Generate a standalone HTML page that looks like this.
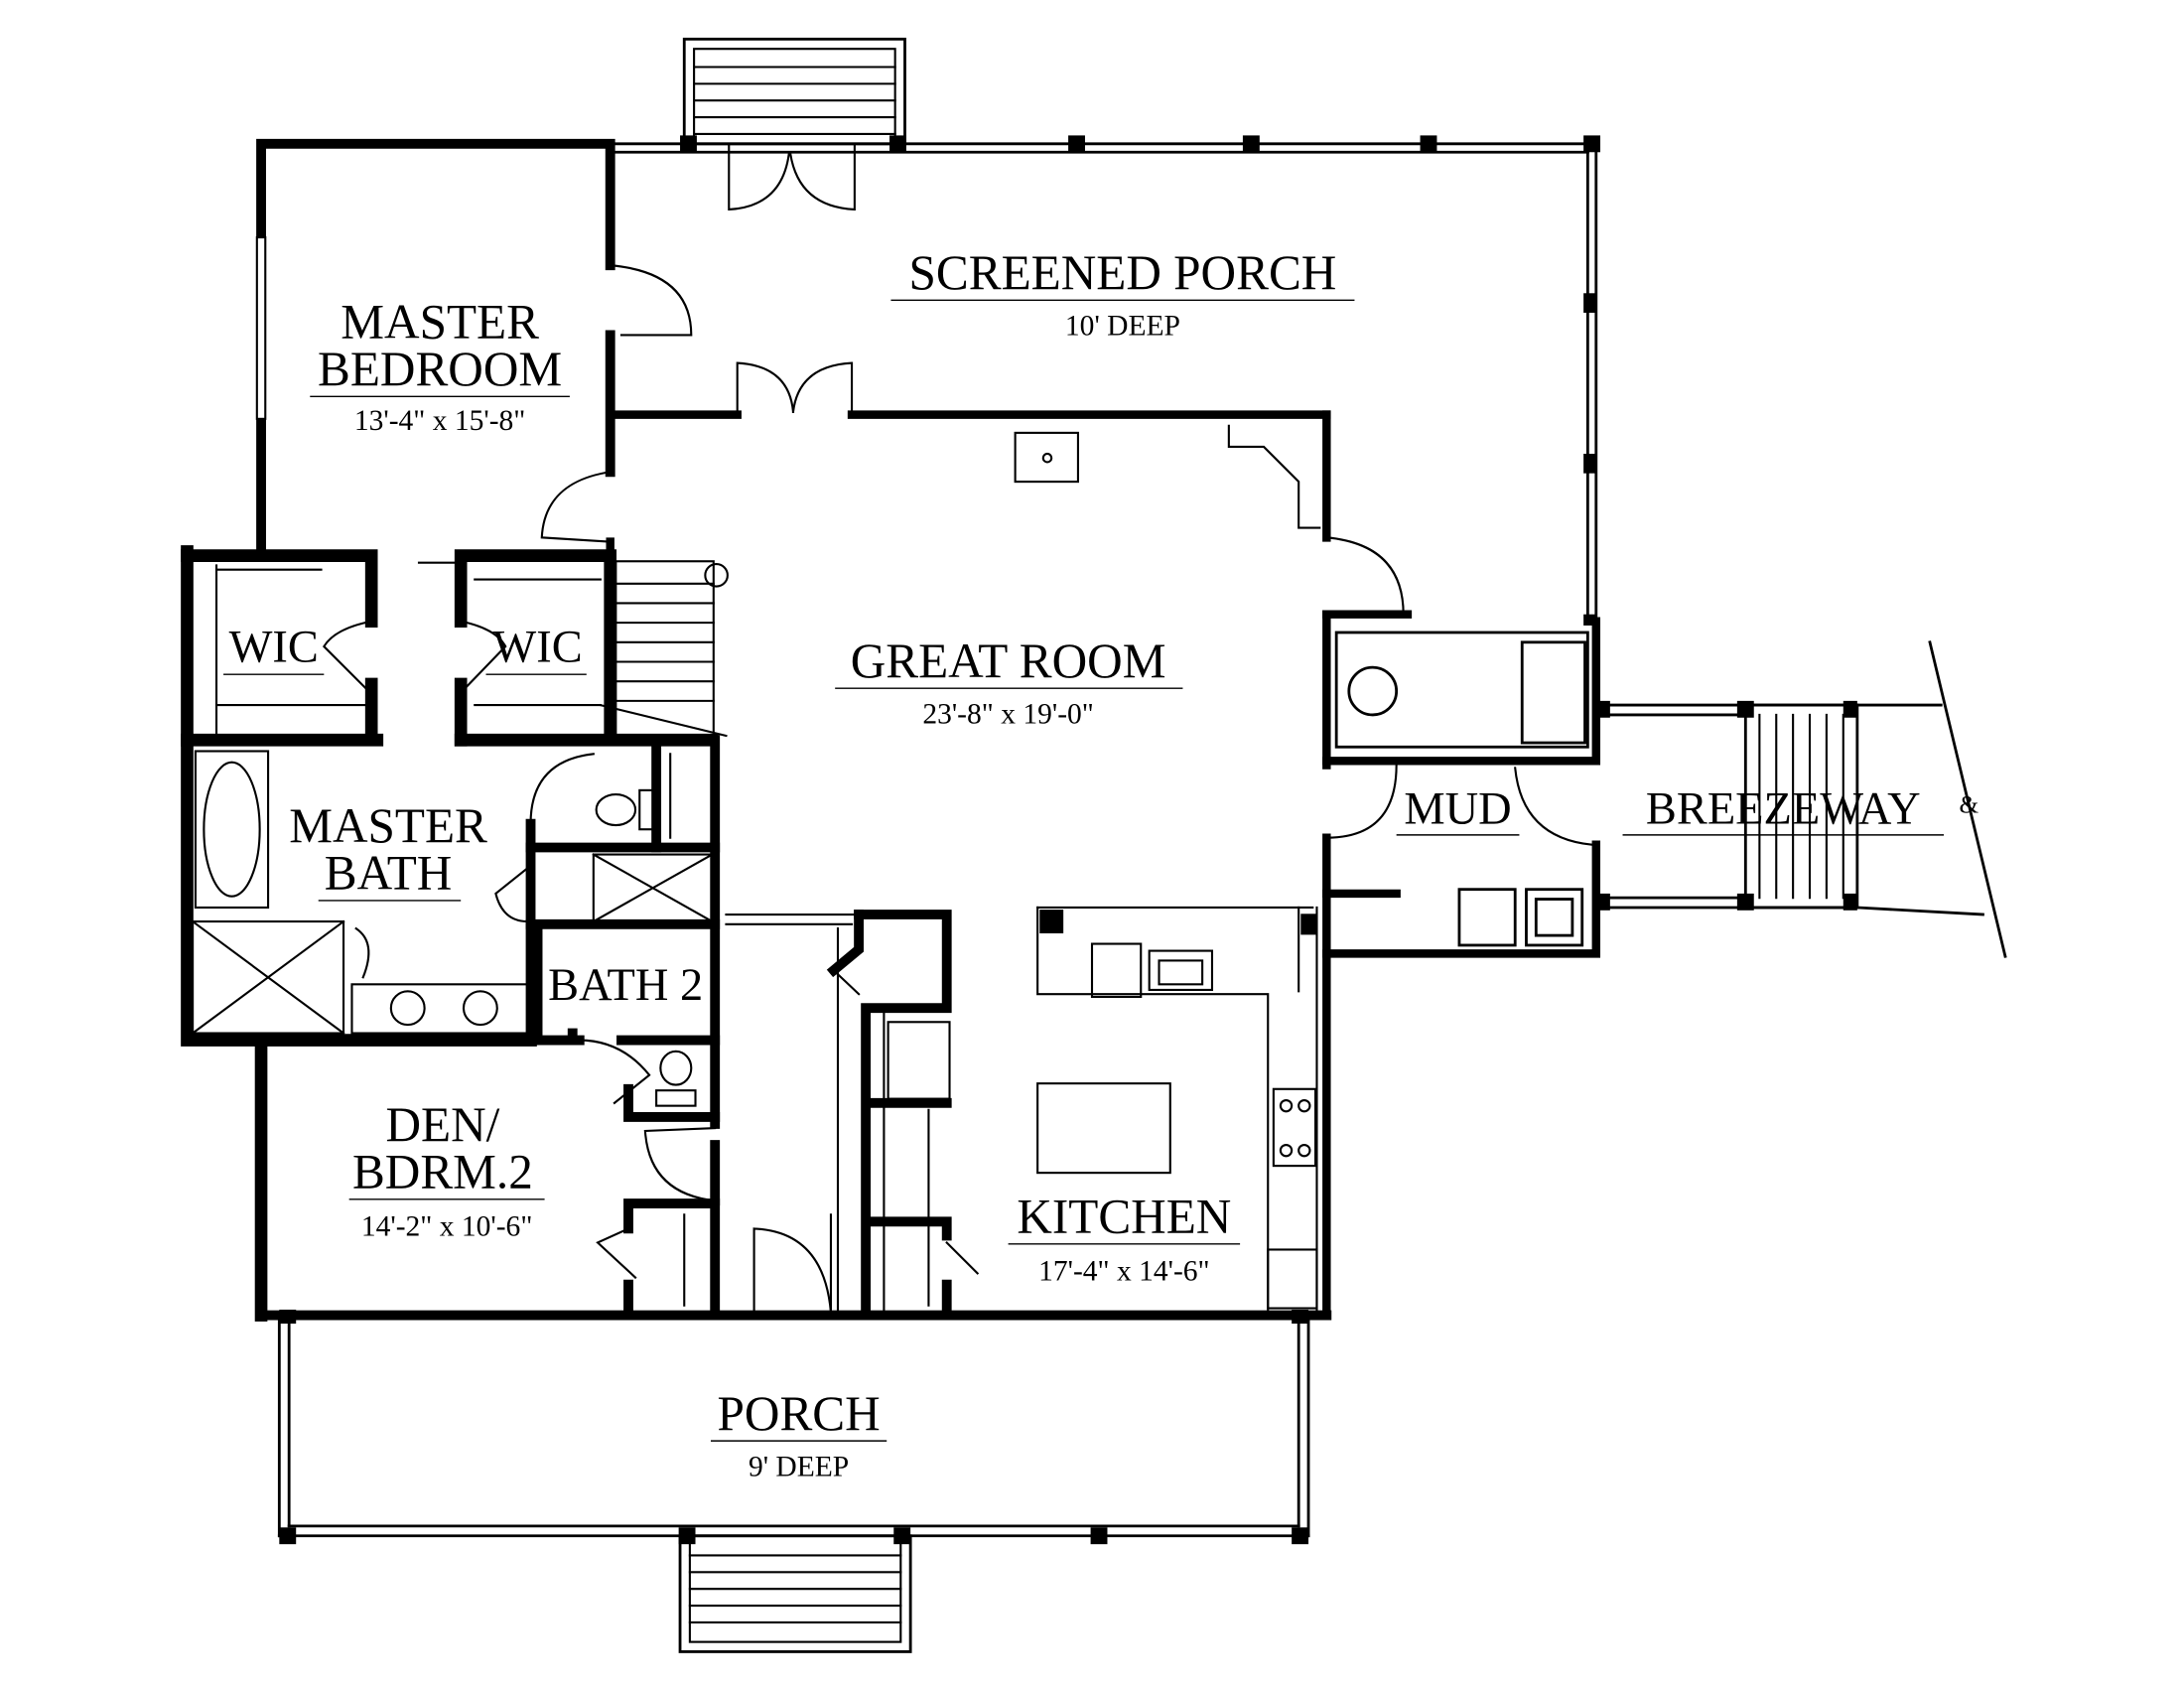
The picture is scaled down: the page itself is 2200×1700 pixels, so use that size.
<!DOCTYPE html>
<html><head><meta charset="utf-8"><style>
html,body{margin:0;padding:0;background:#fff;}
svg{display:block;}
text{font-family:"Liberation Serif",serif;fill:#000;}
</style></head><body>
<svg width="2200" height="1700" viewBox="0 0 1564 1209" preserveAspectRatio="none" xmlns="http://www.w3.org/2000/svg">
<g fill="none" stroke="#000" stroke-linecap="square">
<rect x="490" y="28" width="158" height="75" stroke-width="2"/>
<rect x="497" y="35" width="144" height="68" stroke-width="1.5"/>
<g stroke-width="1.5"><line x1="497" y1="48" x2="641" y2="48"/><line x1="497" y1="60" x2="641" y2="60"/><line x1="497" y1="72" x2="641" y2="72"/><line x1="497" y1="84" x2="641" y2="84"/><line x1="497" y1="96" x2="641" y2="96"/></g>
<g stroke-width="2"><line x1="437" y1="103" x2="1143" y2="103"/><line x1="437" y1="109" x2="1137" y2="109"/><line x1="1143" y1="103" x2="1143" y2="445"/><line x1="1137" y1="109" x2="1137" y2="445"/></g>
<g stroke-width="7"><polyline points="187,395 187,103 437,103 437,190"/><line x1="437" y1="240" x2="437" y2="338"/></g>
<rect x="184" y="170" width="6" height="130" fill="#fff" stroke-width="1.5"/>
<g stroke-width="6"><line x1="437" y1="297" x2="528" y2="297"/><line x1="610" y1="297" x2="950" y2="297"/><line x1="950" y1="297" x2="950" y2="385"/><line x1="950" y1="440" x2="950" y2="548"/><line x1="950" y1="600" x2="950" y2="942"/><line x1="437" y1="388" x2="437" y2="400"/></g>
<g stroke-width="6"><polyline points="950,440 1008,440"/><polyline points="950,545 1143,545 1143,445"/><polyline points="950,683 1143,683 1143,605"/><line x1="950" y1="640" x2="1000" y2="640"/></g>
<g stroke-width="2"><rect x="957" y="453" width="180" height="82"/><rect x="1090" y="460" width="45" height="72"/><circle cx="983" cy="495" r="17"/><rect x="1045" y="637" width="40" height="40"/><rect x="1093" y="637" width="40" height="40"/><rect x="1100" y="644" width="26" height="26"/></g>
<g stroke-width="2"><line x1="1143" y1="505" x2="1330" y2="505"/><line x1="1143" y1="512" x2="1250" y2="512"/><line x1="1143" y1="650" x2="1330" y2="650"/><line x1="1143" y1="643" x2="1250" y2="643"/><line x1="1330" y1="505" x2="1390" y2="505"/><line x1="1330" y1="650" x2="1420" y2="655"/><line x1="1382" y1="460" x2="1436" y2="685"/></g>
<rect x="1250" y="505" width="80" height="145" stroke-width="2"/>
<g stroke-width="1.5"><line x1="1260" y1="512" x2="1260" y2="643"/><line x1="1272" y1="512" x2="1272" y2="643"/><line x1="1284" y1="512" x2="1284" y2="643"/><line x1="1296" y1="512" x2="1296" y2="643"/><line x1="1308" y1="512" x2="1308" y2="643"/><line x1="1320" y1="512" x2="1320" y2="643"/></g>
<g stroke-width="9"><polyline points="134,395 134,745 380,745"/><polyline points="134,398 266,398 266,445"/><line x1="266" y1="490" x2="266" y2="525"/><line x1="134" y1="530" x2="270" y2="530"/><polyline points="330,445 330,398 437,398 437,525"/><line x1="330" y1="490" x2="330" y2="530"/><line x1="330" y1="530" x2="510" y2="530"/><line x1="187" y1="745" x2="187" y2="942"/></g>
<g stroke-width="1.5"><line x1="155" y1="405" x2="155" y2="525"/><line x1="155" y1="408" x2="230" y2="408"/><line x1="155" y1="505" x2="262" y2="505"/><line x1="340" y1="415" x2="430" y2="415"/><line x1="340" y1="505" x2="430" y2="505"/><path d="M266 445 Q240 450 232 463 L262 493"/><path d="M330 445 Q355 450 362 463 L333 493"/></g>
<g stroke-width="1.5"><rect x="441" y="402" width="70" height="125"/><line x1="441" y1="418" x2="511" y2="418"/><line x1="441" y1="432" x2="511" y2="432"/><line x1="441" y1="446" x2="511" y2="446"/><line x1="441" y1="460" x2="511" y2="460"/><line x1="441" y1="474" x2="511" y2="474"/><line x1="441" y1="488" x2="511" y2="488"/><line x1="441" y1="502" x2="511" y2="502"/><line x1="430" y1="505" x2="520" y2="527"/><circle cx="513" cy="412" r="8"/><line x1="300" y1="403" x2="330" y2="403"/></g>
<g stroke-width="7"><line x1="380" y1="590" x2="380" y2="745"/><line x1="380" y1="607" x2="512" y2="607"/><line x1="470" y1="530" x2="470" y2="607"/><line x1="512" y1="530" x2="512" y2="805"/><line x1="380" y1="662" x2="512" y2="662"/><line x1="410" y1="745" x2="410" y2="740"/></g>
<g stroke-width="1.5"><rect x="140" y="538" width="52" height="112"/><ellipse cx="166" cy="594" rx="20" ry="48"/><rect x="138" y="660" width="108" height="80"/><line x1="138" y1="660" x2="246" y2="740"/><line x1="246" y1="660" x2="138" y2="740"/><rect x="252" y="705" width="126" height="35"/><circle cx="292" cy="722" r="12"/><circle cx="344" cy="722" r="12"/><rect x="425" y="612" width="85" height="48"/><line x1="425" y1="612" x2="510" y2="660"/><line x1="510" y1="612" x2="425" y2="660"/><ellipse cx="441" cy="580" rx="14" ry="11"/><rect x="458" y="566" width="12" height="28"/><path d="M380 590 Q380 545 425 540"/><path d="M380 620 L355 640 Q360 660 378 660"/><path d="M255 665 Q270 675 260 700"/><line x1="480" y1="540" x2="480" y2="600"/></g>
<g stroke-width="7"><polyline points="385,665 385,745 415,745"/><polyline points="445,745 512,745"/><polyline points="450,780 450,800 512,800"/><line x1="512" y1="820" x2="512" y2="860"/></g>
<g stroke-width="1.5"><path d="M415 745 Q445 745 465 770 L440 790"/><ellipse cx="484" cy="765" rx="11" ry="12"/><rect x="470" y="781" width="28" height="11"/><line x1="520" y1="655" x2="615" y2="655"/><line x1="520" y1="662" x2="610" y2="662"/></g>
<g stroke-width="7"><line x1="187" y1="942" x2="950" y2="942"/><polyline points="450,880 450,862 512,862 512,942"/><line x1="450" y1="920" x2="450" y2="942"/></g>
<g stroke-width="1.5"><path d="M512 860 Q465 855 462 810 L512 808"/><path d="M450 880 L428 890 L455 915"/><line x1="490" y1="870" x2="490" y2="935"/></g>
<g stroke-width="7"><polyline points="615,655 615,680 597,695"/><polyline points="615,655 678,655 678,722 620,722 620,942"/><line x1="625" y1="790" x2="678" y2="790"/><polyline points="625,875 678,875 678,885"/><line x1="678" y1="920" x2="678" y2="942"/></g>
<g stroke-width="1.5"><line x1="633" y1="722" x2="633" y2="942"/><rect x="636" y="732" width="44" height="55"/><line x1="665" y1="795" x2="665" y2="935"/><line x1="597" y1="695" x2="615" y2="712"/><line x1="678" y1="890" x2="700" y2="912"/><path d="M540 942 L540 880 Q590 882 595 940"/><line x1="595" y1="870" x2="595" y2="942"/><line x1="600" y1="665" x2="600" y2="942"/></g>
<g stroke-width="1.5"><polyline points="743,650 743,712 908,712 908,942"/><line x1="743" y1="650" x2="940" y2="650"/><rect x="782" y="676" width="35" height="38"/><rect x="823" y="681" width="45" height="28"/><rect x="830" y="688" width="31" height="17"/><rect x="743" y="776" width="95" height="64"/><rect x="912" y="780" width="30" height="55"/><circle cx="921" cy="792" r="4"/><circle cx="934" cy="792" r="4"/><circle cx="921" cy="824" r="4"/><circle cx="934" cy="824" r="4"/><rect x="908" y="895" width="35" height="42"/><line x1="930" y1="650" x2="930" y2="710"/><line x1="943" y1="650" x2="943" y2="942"/></g>
<rect x="745" y="652" width="16" height="16" fill="#000"/><rect x="932" y="655" width="11" height="14" fill="#000"/>
<g stroke-width="1.5"><rect x="727" y="310" width="45" height="35"/><circle cx="750" cy="328" r="3"/><polyline points="880,305 880,320 905,320 930,345 930,378 945,378"/></g>
<g stroke-width="1.5"><path d="M437 190 Q495 195 495 240 L445 240"/><path d="M437 338 Q390 345 388 385 L437 388"/><path d="M950 385 Q1005 390 1005 440 L950 440"/><path d="M950 600 Q1000 600 1000 548"/><path d="M1140 605 Q1090 600 1085 550"/><path d="M528 297 L528 260 Q565 262 568 295"/><path d="M610 297 L610 260 Q572 262 568 295"/><path d="M522 103 L522 150 Q560 148 565 110"/><path d="M612 103 L612 150 Q572 148 566 110"/></g>
<g stroke-width="2"><line x1="200" y1="942" x2="200" y2="1100"/><line x1="207" y1="942" x2="207" y2="1093"/><line x1="937" y1="942" x2="937" y2="1100"/><line x1="930" y1="942" x2="930" y2="1093"/><line x1="200" y1="1100" x2="937" y2="1100"/><line x1="207" y1="1093" x2="930" y2="1093"/></g>
<rect x="487" y="1100" width="165" height="83" stroke-width="2"/>
<g stroke-width="1.5"><rect x="494" y="1100" width="151" height="76"/><line x1="494" y1="1114" x2="645" y2="1114"/><line x1="494" y1="1126" x2="645" y2="1126"/><line x1="494" y1="1138" x2="645" y2="1138"/><line x1="494" y1="1150" x2="645" y2="1150"/><line x1="494" y1="1162" x2="645" y2="1162"/></g>
</g>
<g fill="#000">
<rect x="487" y="97" width="12" height="12"/><rect x="637" y="97" width="12" height="12"/><rect x="765" y="97" width="12" height="12"/><rect x="890" y="97" width="12" height="12"/><rect x="1017" y="97" width="12" height="12"/><rect x="1134" y="97" width="12" height="12"/><rect x="1134" y="210" width="9" height="14"/><rect x="1134" y="325" width="9" height="14"/><rect x="1134" y="440" width="9" height="8"/>
<rect x="1143" y="502" width="10" height="12"/><rect x="1143" y="640" width="10" height="12"/><rect x="1244" y="502" width="12" height="12"/><rect x="1244" y="640" width="12" height="12"/><rect x="1320" y="502" width="10" height="12"/><rect x="1320" y="640" width="10" height="12"/>
<rect x="200" y="1094" width="12" height="12"/><rect x="486" y="1094" width="12" height="12"/><rect x="640" y="1094" width="12" height="12"/><rect x="781" y="1094" width="12" height="12"/><rect x="925" y="1094" width="12" height="12"/><rect x="200" y="938" width="12" height="10"/><rect x="925" y="938" width="12" height="10"/><rect x="131" y="600" width="4" height="8"/>
</g>
<g text-anchor="middle">
<text x="804" y="207" font-size="35">SCREENED PORCH</text><line x1="638" y1="215" x2="970" y2="215" stroke="#000"/>
<text x="804" y="240" font-size="21">10' DEEP</text>
<text x="315" y="242" font-size="35">MASTER</text><text x="315" y="276" font-size="35">BEDROOM</text><line x1="222" y1="284" x2="408" y2="284" stroke="#000"/>
<text x="315" y="308" font-size="21">13'-4" x 15'-8"</text>
<text x="196" y="474" font-size="33">WIC</text><line x1="160" y1="483" x2="232" y2="483" stroke="#000"/>
<text x="385" y="474" font-size="33">WIC</text><line x1="348" y1="483" x2="420" y2="483" stroke="#000"/>
<text x="722" y="485" font-size="35">GREAT ROOM</text><line x1="598" y1="493" x2="847" y2="493" stroke="#000"/>
<text x="722" y="518" font-size="21">23'-8" x 19'-0"</text>
<text x="278" y="603" font-size="35">MASTER</text><text x="278" y="637" font-size="35">BATH</text><line x1="228" y1="645" x2="330" y2="645" stroke="#000"/>
<text x="1044" y="590" font-size="33">MUD</text><line x1="1000" y1="598" x2="1088" y2="598" stroke="#000"/>
<text x="1277" y="590" font-size="33">BREEZEWAY</text><line x1="1162" y1="598" x2="1392" y2="598" stroke="#000"/>
<text x="448" y="716" font-size="33">BATH 2</text>
<text x="317" y="817" font-size="35">DEN/</text><text x="317" y="851" font-size="35">BDRM.2</text><line x1="250" y1="859" x2="390" y2="859" stroke="#000"/>
<text x="320" y="885" font-size="21">14'-2" x 10'-6"</text>
<text x="805" y="883" font-size="35">KITCHEN</text><line x1="722" y1="891" x2="888" y2="891" stroke="#000"/>
<text x="805" y="917" font-size="21">17'-4" x 14'-6"</text>
<text x="572" y="1024" font-size="35">PORCH</text><line x1="509" y1="1032" x2="635" y2="1032" stroke="#000"/>
<text x="572" y="1057" font-size="21">9' DEEP</text>
</g>
<text x="1403" y="582" font-size="18">&amp;</text>
</svg>
</body></html>
